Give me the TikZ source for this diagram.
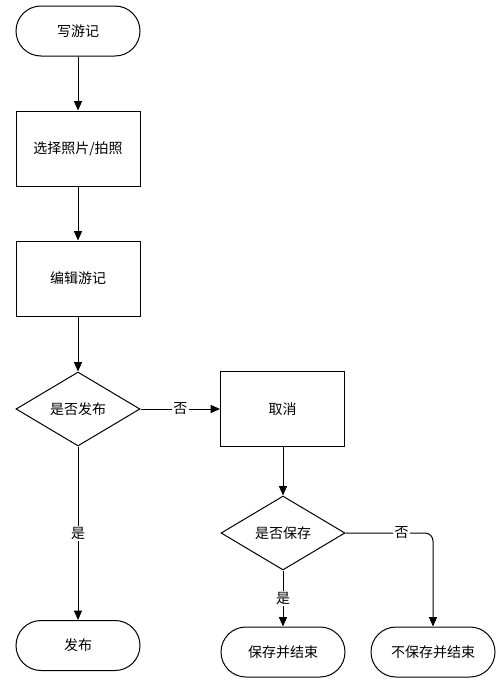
\documentclass[tikz,border=0pt]{standalone}
\usepackage{fontspec}
\setmainfont{Noto Sans CJK SC}
\usetikzlibrary{shapes.geometric,arrows.meta}
\begin{document}
\begin{tikzpicture}[x=0.75pt,y=-0.75pt,
  every node/.style={font=\fontsize{10.5pt}{12pt}\selectfont, inner sep=0pt},
  term/.style={draw, line width=0.75pt, rounded corners=18.75pt, minimum width=93pt, minimum height=37.5pt},
  procbox/.style={draw, line width=0.75pt, minimum width=93pt, minimum height=56.25pt},
  decide/.style={draw, line width=0.75pt, diamond, aspect=1.68, minimum width=93pt, minimum height=55.5pt},
  arr/.style={draw, line width=0.75pt, -{Triangle[length=7pt,width=6pt]}},
  lbl/.style={fill=white, inner sep=1pt}]
\useasboundingbox (0,0) rectangle (502,682);
\node[term] (start) at (78,31) {写游记};
\node[procbox] (photo) at (78,148.5) {选择照片/拍照};
\node[procbox] (edit) at (78,278.5) {编辑游记};
\node[decide] (pub) at (78,409) {是否发布};
\node[procbox] (cancel) at (282.5,409) {取消};
\node[term] (publish) at (78,645.5) {发布};
\node[decide] (save) at (283,533) {是否保存};
\node[term] (saveend) at (283,652) {保存并结束};
\node[term] (nosave) at (433,652) {不保存并结束};
\draw[arr] (start) -- (photo);
\draw[arr] (photo) -- (edit);
\draw[arr] (edit) -- (pub);
\draw[arr] (pub) -- node[lbl]{否} (cancel);
\draw[arr] (pub) -- node[lbl]{是} (publish);
\draw[arr] (cancel.south -| save.north) -- (save);
\draw[arr] (save) -- node[lbl]{是} (saveend);
\draw[arr, rounded corners=6pt] (save.east) -| node[lbl, pos=0.32]{否} (nosave.north);
\end{tikzpicture}
\end{document}
